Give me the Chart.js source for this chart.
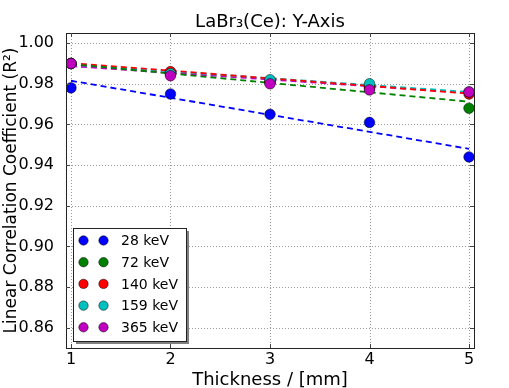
<!DOCTYPE html>
<html>
<head>
<meta charset="utf-8">
<script src="https://cdn.jsdelivr.net/npm/chart.js@4/dist/chart.umd.min.js"></script>
<style>
  html, body { margin: 0; padding: 0; background: #fff; }
  #wrap { width: 509px; height: 388px; }
</style>
</head>
<body>
<div id="wrap"><canvas id="myChart"></canvas></div>
<script>
/* data */
var thickness = [1, 2, 3, 4, 5];
var fitX = [1, 5];
var energies = ['28 keV', '72 keV', '140 keV', '159 keV', '365 keV'];
var colors = ['#0000ff', '#008000', '#ff0000', '#00bfbf', '#bf00bf'];

var r2_28  = [0.978, 0.975, 0.965, 0.961, 0.944];
var r2_72  = [0.990, 0.985, 0.981, 0.978, 0.968];
var r2_140 = [0.990, 0.986, 0.981, 0.978, 0.975];
var r2_159 = [0.990, 0.985, 0.982, 0.980, 0.976];
var r2_365 = [0.990, 0.984, 0.980, 0.977, 0.976];

// dashed fit lines, value at x=1 and x=5
var fit_28  = [0.9815, 0.9480];
var fit_72  = [0.9897, 0.9712];
var fit_140 = [0.9902, 0.9752];
var fit_159 = [0.9895, 0.9760];
var fit_365 = [0.9887, 0.9755];

var xTicks = [1, 2, 3, 4, 5];
var yTicks = [0.86, 0.88, 0.90, 0.92, 0.94, 0.96, 0.98, 1.00];
var chartTitle = 'LaBr\u2083(Ce): Y-Axis';

var series = [r2_28, r2_72, r2_140, r2_159, r2_365];
var fits = [fit_28, fit_72, fit_140, fit_159, fit_365];

var FONT = "'DejaVu Sans', sans-serif";

function pairs(xs, ys){
	return xs.map(function(x, i){ return {x: x, y: ys[i]}; });
}

var datasets = [];
fits.forEach(function(f, i){
	datasets.push({
		label: energies[i] + ' fit',
		data: pairs(fitX, f),
		showLine: true,
		borderColor: colors[i],
		borderWidth: 1.8,
		borderDash: [6, 4],
		pointRadius: 0,
		fill: false,
		order: 10
	});
});
series.forEach(function(s, i){
	datasets.push({
		label: energies[i],
		data: pairs(thickness, s),
		showLine: false,
		pointRadius: 5.3,
		backgroundColor: colors[i],
		borderColor: '#000',
		borderWidth: 0.5,
		order: 5 - i,
		isPoints: true
	});
});

/* grid, frame, inner tick marks and title like matplotlib */
var framePlugin = {
	id: 'frame',
	beforeDatasetsDraw: function(chart){
		var ctx = chart.ctx, a = chart.chartArea;
		var xs = chart.scales.x, ys = chart.scales.y;
		ctx.save();
		ctx.strokeStyle = '#9a9a9a';
		ctx.lineWidth = 1;
		ctx.setLineDash([1, 2]);
		xTicks.forEach(function(v){
			var px = Math.round(xs.getPixelForValue(v)) + 0.5;
			ctx.beginPath(); ctx.moveTo(px, a.top); ctx.lineTo(px, a.bottom); ctx.stroke();
		});
		yTicks.forEach(function(v){
			var py = Math.round(ys.getPixelForValue(v)) + 0.5;
			ctx.beginPath(); ctx.moveTo(a.left, py); ctx.lineTo(a.right, py); ctx.stroke();
		});
		ctx.restore();
	},
	afterDatasetsDraw: function(chart){
		var ctx = chart.ctx, a = chart.chartArea;
		var xs = chart.scales.x, ys = chart.scales.y;
		ctx.save();
		ctx.strokeStyle = '#222';
		ctx.lineWidth = 1;
		ctx.strokeRect(Math.round(a.left) + 0.5, Math.round(a.top) + 0.5,
			Math.round(a.right - a.left), Math.round(a.bottom - a.top));
		ctx.strokeStyle = '#444';
		xTicks.forEach(function(v){
			var px = Math.round(xs.getPixelForValue(v)) + 0.5;
			ctx.beginPath();
			ctx.moveTo(px, a.bottom); ctx.lineTo(px, a.bottom - 4);
			ctx.moveTo(px, a.top); ctx.lineTo(px, a.top + 4);
			ctx.stroke();
		});
		yTicks.forEach(function(v){
			var py = Math.round(ys.getPixelForValue(v)) + 0.5;
			ctx.beginPath();
			ctx.moveTo(a.left, py); ctx.lineTo(a.left + 4, py);
			ctx.moveTo(a.right, py); ctx.lineTo(a.right - 4, py);
			ctx.stroke();
		});
		// title centred over the axes
		ctx.fillStyle = '#000';
		ctx.font = '18px ' + FONT;
		ctx.textAlign = 'center';
		ctx.textBaseline = 'middle';
		ctx.fillText(chartTitle, (a.left + a.right) / 2, 22);
		ctx.restore();
	}
};

/* matplotlib style legend with two markers per entry */
var legendPlugin = {
	id: 'mplLegend',
	afterDraw: function(chart){
		var ctx = chart.ctx, a = chart.chartArea;
		var items = chart.data.datasets.filter(function(d){ return d.isPoints; });
		var bx = a.left + 7, bw = 113, rowH = 21.7;
		var bh = 113;
		var by = a.bottom - 7 - bh;
		ctx.save();
		ctx.fillStyle = '#7f7f7f';
		ctx.fillRect(bx + 3, by + 3, bw, bh);
		ctx.fillStyle = '#fff';
		ctx.fillRect(bx, by, bw, bh);
		ctx.strokeStyle = '#222';
		ctx.lineWidth = 1;
		ctx.strokeRect(Math.round(bx) + 0.5, Math.round(by) + 0.5, bw, bh);
		ctx.font = '14px ' + FONT;
		ctx.textBaseline = 'middle';
		items.forEach(function(d, i){
			var cy = by + 12.5 + i * rowH;
			[bx + 10.5, bx + 30.5].forEach(function(mx){
				ctx.beginPath();
				ctx.arc(mx, cy, 4.7, 0, Math.PI * 2);
				ctx.fillStyle = d.backgroundColor;
				ctx.fill();
				ctx.lineWidth = 0.5;
				ctx.strokeStyle = '#000';
				ctx.stroke();
			});
			ctx.fillStyle = '#000';
			ctx.fillText(d.label, bx + 48, cy + 1);
		});
		ctx.restore();
	}
};

var ctx = document.getElementById('myChart').getContext('2d');
var chart = new Chart(ctx, {
	type: 'scatter',
	data: { datasets: datasets },
	options: {
		responsive: true,
		maintainAspectRatio: false,
		animation: false,
		layout: { padding: { left: 0, right: 35, top: 33, bottom: 0 } },
		plugins: {
			legend: { display: false },
			tooltip: { enabled: false },
			title: { display: false }
		},
		scales: {
			x: {
				type: 'linear',
				min: 0.95,
				max: 5.05,
				grid: { display: false },
				border: { display: false },
				afterBuildTicks: function(scale){
					scale.ticks = xTicks.map(function(v){ return {value: v}; });
				},
				afterFit: function(scale){ scale.height = 40; },
				ticks: {
					color: '#000',
					padding: -6,
					maxRotation: 0,
					font: { family: FONT, size: 16 },
					callback: function(v){ return String(v); }
				},
				title: {
					display: true,
					text: 'Thickness / [mm]',
					color: '#000',
					padding: { top: 0, bottom: -3 },
					font: { family: FONT, size: 18 }
				}
			},
			y: {
				type: 'linear',
				min: 0.85,
				max: 1.005,
				grid: { display: false },
				border: { display: false },
				afterBuildTicks: function(scale){
					scale.ticks = yTicks.map(function(v){ return {value: v}; });
				},
				afterFit: function(scale){ scale.width = 66; },
				ticks: {
					color: '#000',
					padding: 4,
					font: { family: FONT, size: 16 },
					callback: function(v){ return Number(v).toFixed(2); }
				},
				title: {
					display: true,
					text: 'Linear Correlation Coefficient (R\u00b2)',
					color: '#000',
					padding: { top: 1, bottom: 0 },
					font: { family: FONT, size: 17 }
				}
			}
		}
	},
	plugins: [framePlugin, legendPlugin]
});
</script>
</body>
</html>
